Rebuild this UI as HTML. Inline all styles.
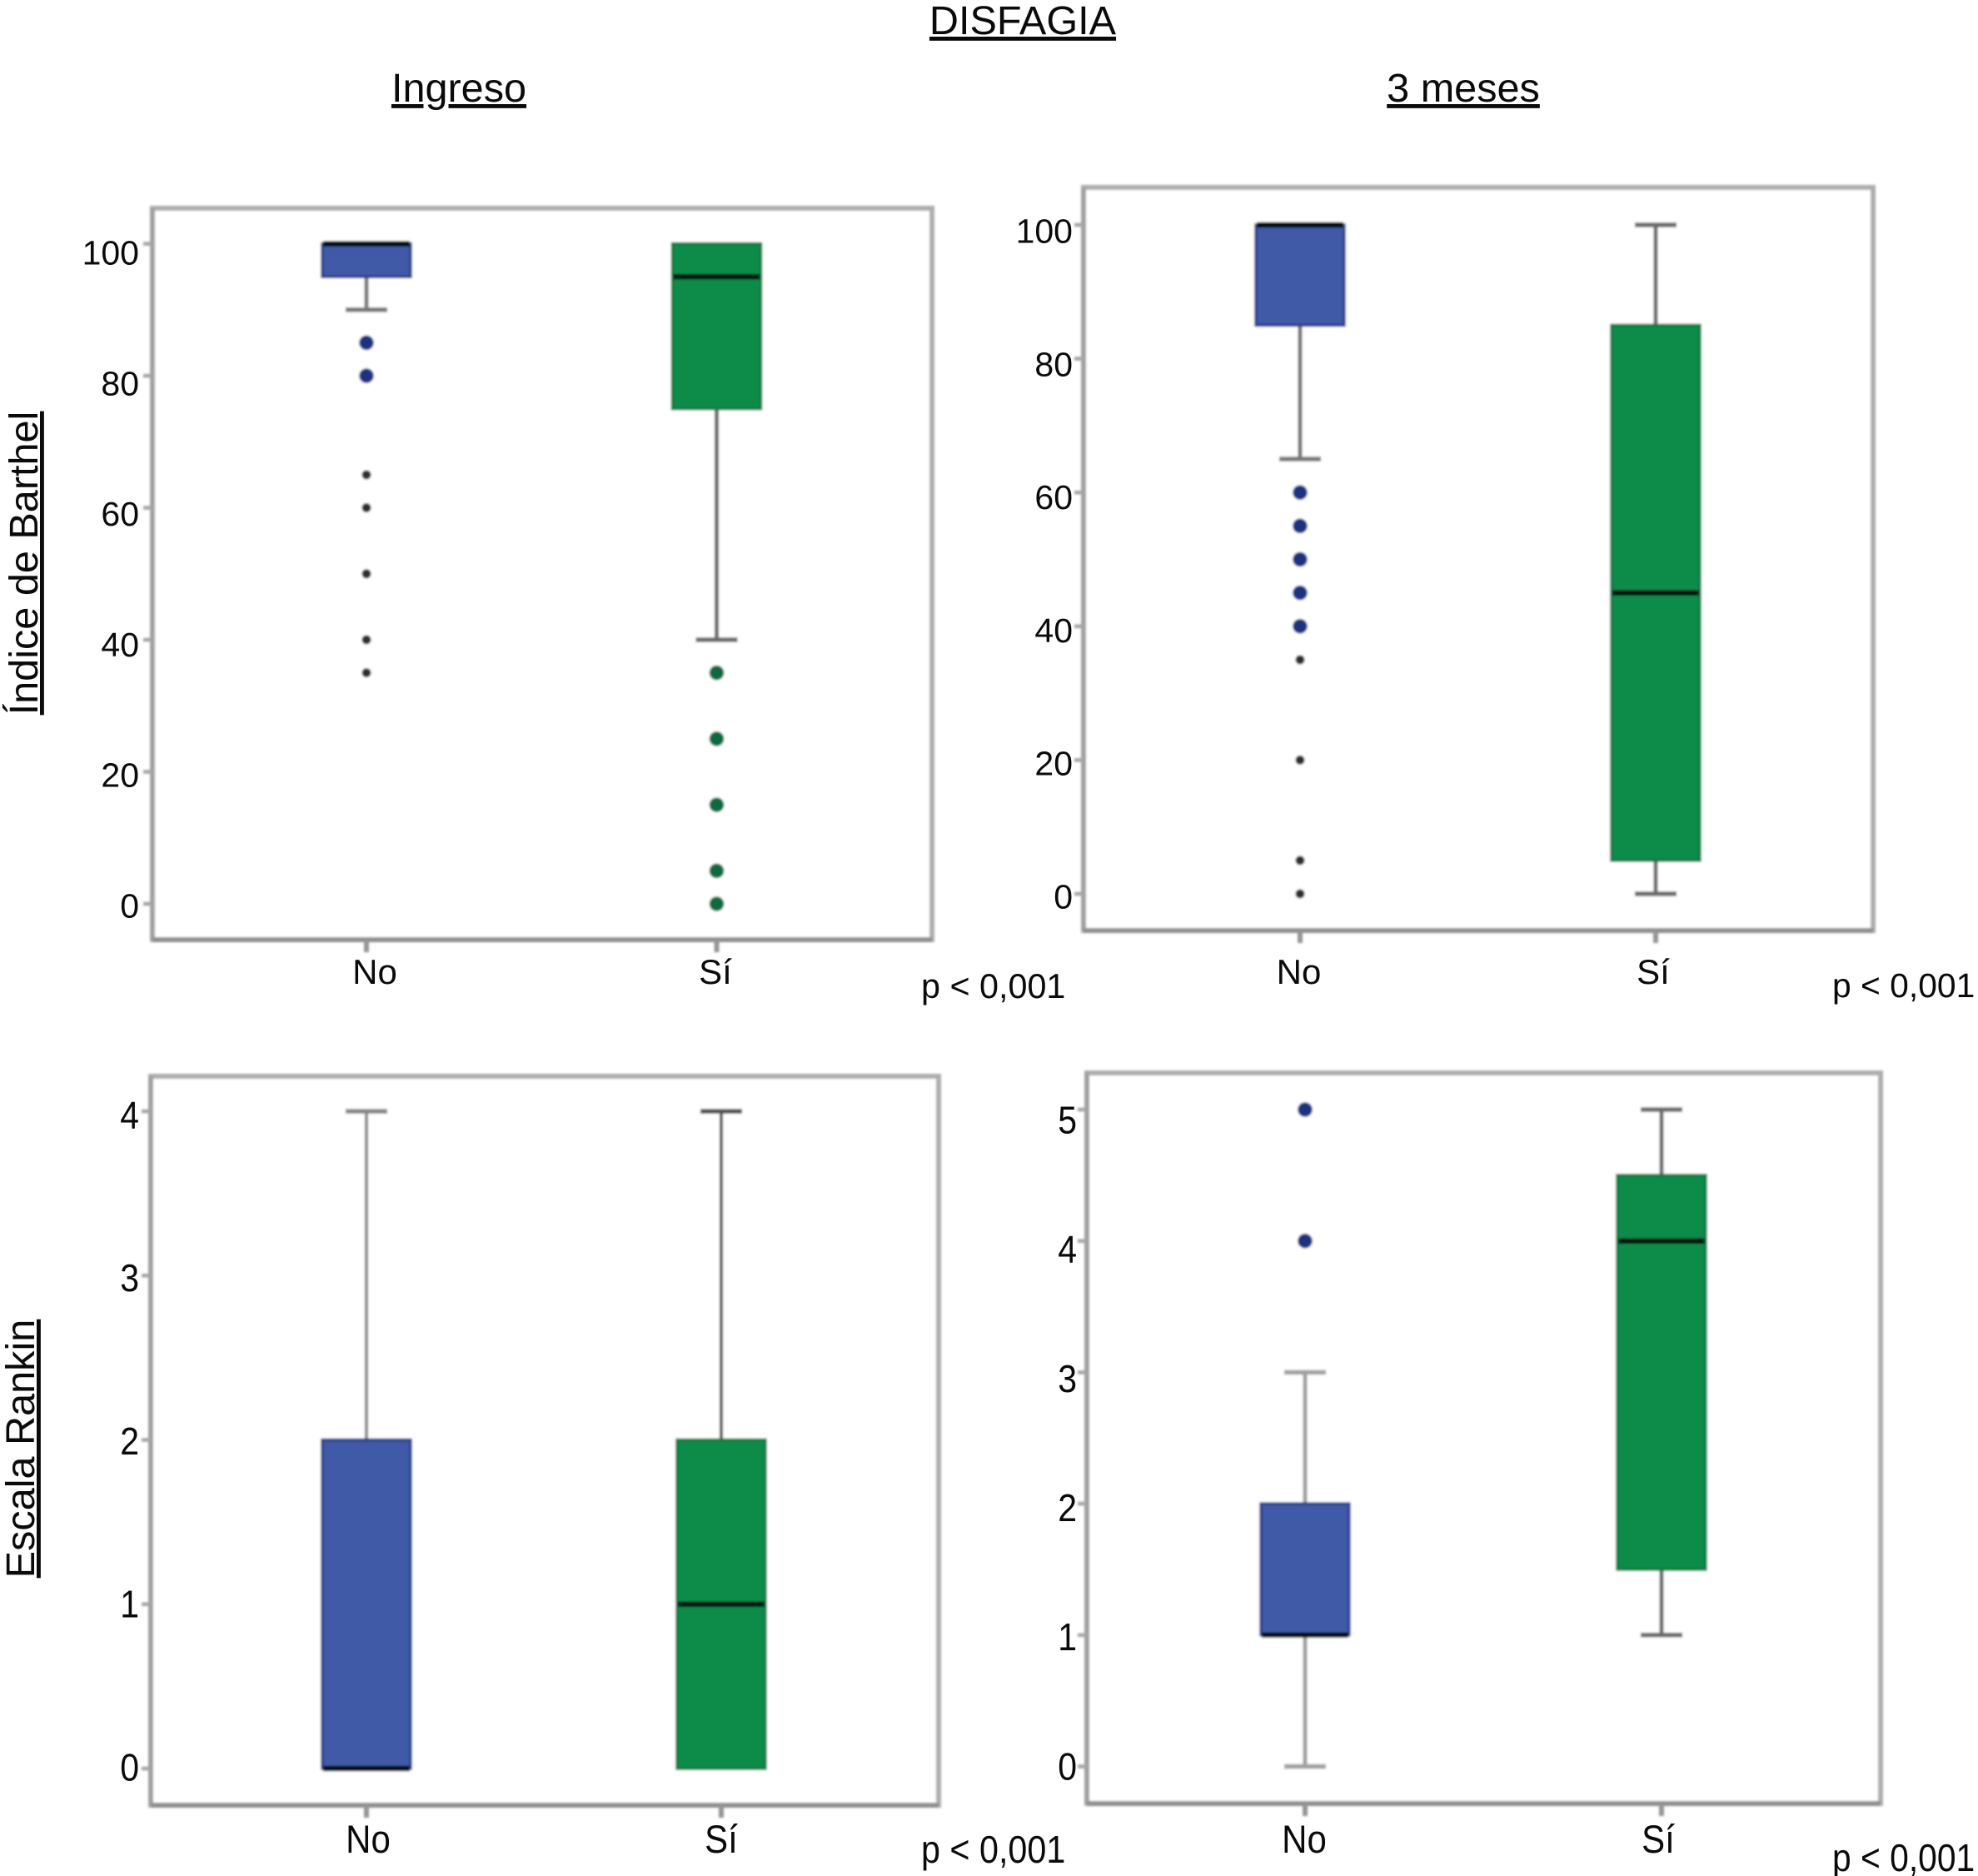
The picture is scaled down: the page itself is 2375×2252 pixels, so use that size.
<!DOCTYPE html>
<html lang="es">
<head>
<meta charset="utf-8">
<title>Disfagia</title>
<style>
html,body{margin:0;padding:0;background:#fff;}
body{width:2375px;height:2252px;overflow:hidden;}
svg{display:block;}
text{font-family:"Liberation Sans",Arial,sans-serif;fill:#0a0a0a;}
.title{font-size:48.6px;text-decoration:underline;}
</style>
</head>
<body>
<svg id="chart" xmlns="http://www.w3.org/2000/svg" width="2375" height="2252" viewBox="0 0 2375 2252">
  <defs>
    <filter id="soft" x="-5%" y="-5%" width="110%" height="110%"><feGaussianBlur stdDeviation="1.2"/></filter>
  </defs>
  <rect width="2375" height="2252" fill="#fff"/>
  <text class="title" x="1228" y="41" text-anchor="middle">DISFAGIA</text>
  <text class="title" x="551" y="122" text-anchor="middle">Ingreso</text>
  <text class="title" x="1757" y="122" text-anchor="middle">3 meses</text>
  <text class="title" transform="translate(45,676) rotate(-90)" text-anchor="middle">Índice de Barthel</text>
  <text class="title" transform="translate(41,1739) rotate(-90)" text-anchor="middle">Escala Rankin</text>
</svg>
<script>
// ---- data ----
const categories = ['No', 'Sí'];
const pValueLabel = 'p < 0,001';

const barthelTicks = [0, 20, 40, 60, 80, 100];
const rankinIngresoTicks = [0, 1, 2, 3, 4];
const rankinMesesTicks = [0, 1, 2, 3, 4, 5];

// box statistics order: whisker low, q1, median, q3, whisker high
const barthelIngresoNo = [90, 95, 100, 100, 100];
const barthelIngresoSi = [40, 75, 95, 100, 100];
const barthelMesesNo = [65, 85, 100, 100, 100];
const barthelMesesSi = [0, 5, 45, 85, 100];
const rankinIngresoNo = [0, 0, 0, 2, 4];
const rankinIngresoSi = [0, 0, 1, 2, 4];
const rankinMesesNo = [0, 1, 1, 2, 3];
const rankinMesesSi = [1, 1.5, 4, 4.5, 5];

// outliers (round markers) and extremes (small markers)
const barthelIngresoNoOutliers = [85, 80];
const barthelIngresoNoExtremes = [65, 60, 50, 40, 35];
const barthelIngresoSiOutliers = [35, 25, 15, 5, 0];
const barthelMesesNoOutliers = [60, 55, 50, 45, 40];
const barthelMesesNoExtremes = [35, 20, 5, 0];
const rankinMesesNoOutliers = [5, 4];

const NS = 'http://www.w3.org/2000/svg';
const svg = document.getElementById('chart');

const panels = [
  { id: 'barthel-ingreso', left: 183, right: 1119, top: 250, bottom: 1128,
    ticks: barthelTicks, yLow: 1085, yHigh: 292.6,
    labelLow: 1087, labelHigh: 303, labelRight: 167, labelStretch: 1,
    xNo: 440, xSi: 860.5, xLabelNo: 450, xLabelSi: 859, xLabelBase: 1181,
    pX: 1106, pBase: 1198, pSize: 41.3,
    no: barthelIngresoNo, si: barthelIngresoSi,
    noOut: barthelIngresoNoOutliers, noExt: barthelIngresoNoExtremes, siOut: barthelIngresoSiOutliers },
  { id: 'barthel-3-meses', left: 1301, right: 2249, top: 225, bottom: 1117,
    ticks: barthelTicks, yLow: 1073, yHigh: 270,
    labelLow: 1076, labelHigh: 277, labelRight: 1288, labelStretch: 1,
    xNo: 1561, xSi: 1988, xLabelNo: 1559.5, xLabelSi: 1985, xLabelBase: 1181,
    pX: 2200, pBase: 1197, pSize: 40.8,
    no: barthelMesesNo, si: barthelMesesSi,
    noOut: barthelMesesNoOutliers, noExt: barthelMesesNoExtremes, siOut: [] },
  { id: 'rankin-ingreso', left: 181, right: 1127, top: 1292, bottom: 2167,
    ticks: rankinIngresoTicks, yLow: 2123, yHigh: 1334,
    labelLow: 2121, labelHigh: 1338, labelRight: 167, labelStretch: 1.13,
    xNo: 440, xSi: 866, xLabelNo: 442, xLabelSi: 866, xLabelBase: 2224,
    pX: 1106, pBase: 2236, pSize: 41.3,
    no: rankinIngresoNo, si: rankinIngresoSi,
    noOut: [], noExt: [], siOut: [] },
  { id: 'rankin-3-meses', left: 1305, right: 2258, top: 1288, bottom: 2165,
    ticks: rankinMesesTicks, yLow: 2120.5, yHigh: 1332,
    labelLow: 2120, labelHigh: 1344, labelRight: 1293, labelStretch: 1.13,
    xNo: 1567, xSi: 1995, xLabelNo: 1566, xLabelSi: 1991, xLabelBase: 2224,
    pX: 2200, pBase: 2246, pSize: 40.8,
    no: rankinMesesNo, si: rankinMesesSi,
    noOut: rankinMesesNoOutliers, noExt: [], siOut: [] }
];

function make(tag, attrs, parent) {
  const el = document.createElementNS(NS, tag);
  for (const k in attrs) el.setAttribute(k, attrs[k]);
  parent.appendChild(el);
  return el;
}

function yAxis(p) {
  const lo = p.ticks[0], hi = p.ticks[p.ticks.length - 1];
  return v => p.yLow + (v - lo) / (hi - lo) * (p.yHigh - p.yLow);
}

function yLabelAxis(p) {
  const lo = p.ticks[0], hi = p.ticks[p.ticks.length - 1];
  return v => p.labelLow + (v - lo) / (hi - lo) * (p.labelHigh - p.labelLow);
}

function stretchedText(parent, str, x, baseline, size, anchor, stretch) {
  const t = make('text', {
    transform: 'translate(' + x + ',' + baseline + ') scale(1,' + stretch + ')',
    'font-size': size, 'text-anchor': anchor
  }, parent);
  t.textContent = str;
  return t;
}

function drawBox(g, p, stats, cx, name, fill, edge, whiskerColor, whiskerWidth) {
  const y = yAxis(p);
  const boxW = 106, capW = 50;
  const low = stats[0], q1 = stats[1], med = stats[2], q3 = stats[3], high = stats[4];

  if (high > q3) {
    const w = make('line', { x1: cx, x2: cx, y1: y(high), y2: y(q3), stroke: whiskerColor, 'stroke-width': whiskerWidth }, g);
    
    
    const c = make('line', { x1: cx - capW / 2, x2: cx + capW / 2, y1: y(high), y2: y(high), stroke: whiskerColor, 'stroke-width': 5.5 }, g);
    
    
  }
  if (low < q1) {
    const w = make('line', { x1: cx, x2: cx, y1: y(q1), y2: y(low), stroke: whiskerColor, 'stroke-width': whiskerWidth }, g);
    
    
    const c = make('line', { x1: cx - capW / 2, x2: cx + capW / 2, y1: y(low), y2: y(low), stroke: whiskerColor, 'stroke-width': 5.5 }, g);
    
    
  }
  const box = make('rect', { x: cx - boxW / 2, y: y(q3), width: boxW, height: y(q1) - y(q3), fill: fill, stroke: edge, 'stroke-width': 3.5 }, g);
  
  
  const m = make('line', { x1: cx - boxW / 2 + 1, x2: cx + boxW / 2 - 1, y1: y(med), y2: y(med), stroke: '#020a10', 'stroke-width': 6.5 }, g);
  
  
}

function drawMarkers(g, p, values, cx, name, color, r) {
  const y = yAxis(p);
  values.forEach(v => {
    const c = make('circle', { cx: cx, cy: y(v), r: r, fill: color }, g);
    
    
  });
}

panels.forEach(p => {
  const root = make('g', {}, svg);
  
  

  const g = make('g', { filter: 'url(#soft)' }, root);
  
  

  const frame = make('rect', { x: p.left, y: p.top, width: p.right - p.left, height: p.bottom - p.top, fill: '#fff', stroke: '#adadad', 'stroke-width': 6 }, g);
  
  

  const yAxisLine = make('line', { x1: p.left, x2: p.left, y1: p.top, y2: p.bottom, stroke: '#a0a0a0', 'stroke-width': 6 }, g);
  
  

  const xAxisLine = make('line', { x1: p.left, x2: p.right, y1: p.bottom, y2: p.bottom, stroke: '#8f8f8f', 'stroke-width': 6 }, g);
  
  

  const y = yAxis(p);
  const yl = yLabelAxis(p);
  p.ticks.forEach(v => {
    const t = make('line', { x1: p.left - 11, x2: p.left, y1: y(v), y2: y(v), stroke: '#a5a5a5', 'stroke-width': 4.5 }, g);
    
    
    const label = stretchedText(root, String(v), p.labelRight, yl(v) + 14.5 * p.labelStretch, 41, 'end', p.labelStretch);
    
    
  });

  [p.xNo, p.xSi].forEach((x, i) => {
    const t = make('line', { x1: x, x2: x, y1: p.bottom, y2: p.bottom + 15, stroke: '#959595', 'stroke-width': 6 }, g);
    
    
    const lx = i === 0 ? p.xLabelNo : p.xLabelSi;
    const label = stretchedText(root, categories[i], lx, p.xLabelBase, 42, 'middle', p.labelStretch);
    
    
  });

  const siWhisker = p.id === 'rankin-ingreso' ? '#4f4f4f' : '#6a6a6a';
  const noWhisker = p.id === 'rankin-3-meses' ? '#a0a0a0' : (p.id === 'rankin-ingreso' ? '#858585' : '#777');
  const lineWidth = p.id === 'rankin-ingreso' ? 4 : 5;
  drawBox(g, p, p.no, p.xNo, 'box-no', '#415aa8', '#2b4189', noWhisker, lineWidth);
  drawBox(g, p, p.si, p.xSi, 'box-si', '#0a8c4a', '#0c7a42', siWhisker, lineWidth);

  drawMarkers(g, p, p.noOut, p.xNo, 'outlier-no', '#1f3380', 8.8);
  drawMarkers(g, p, p.noExt, p.xNo, 'extreme-no', '#2e2e2e', 5.5);
  drawMarkers(g, p, p.siOut, p.xSi, 'outlier-si', '#0e6a40', 8.8);

  const pv = stretchedText(root, pValueLabel, p.pX, p.pBase, p.pSize, 'start', p.labelStretch);
  
  
});
</script>
</body>
</html>
